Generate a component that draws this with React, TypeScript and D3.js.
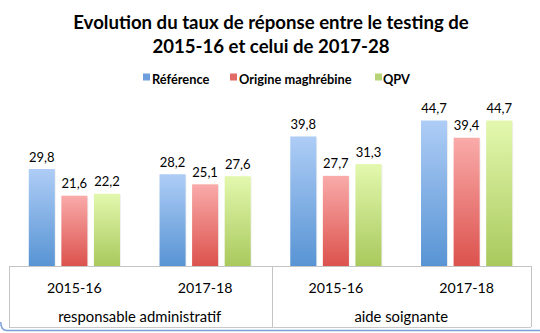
import React from "react";
import * as d3 from "d3";

const categories = ["responsable administratif", "aide soignante"];
const periods = ["2015-16", "2017-18"];
const series = ["Référence", "Origine maghrébine", "QPV"];
const reference = [29.8, 28.2, 39.8, 44.7];
const maghrebine = [21.6, 25.1, 27.7, 39.4];
const qpv = [22.2, 27.6, 31.3, 44.7];
const titleLines = ["Evolution du taux de réponse entre le testing de", "2015-16 et celui de 2017-28"];

const W = 540;
const H = 333;
const FONT = "Lato, 'Open Sans', sans-serif";

const gradients = [
  { id: "gBlue", top: "#aecdf6", bottom: "#5894d4" },
  { id: "gRed", top: "#f9abaa", bottom: "#dc524d" },
  { id: "gGreen", top: "#e3f8ae", bottom: "#a9c95d" },
];
const legendColors = ["#6e9fdc", "#e06b67", "#b6d477"];

export default function App() {
  const leaves = categories.flatMap((c) => periods.map((p) => `${c}|${p}`));
  const values = [reference, maghrebine, qpv];

  const x = d3.scaleBand<string>().domain(leaves).range([9, 532]).padding(0);
  const y = d3.scaleLinear().domain([0, 60]).range([266, 70.7]);

  const inner = (key: string) => {
    const c = (x(key) ?? 0) + x.bandwidth() / 2;
    return d3.scaleBand<string>().domain(series).range([c - 45.6, c + 45.6]).paddingInner(0.2).paddingOuter(0);
  };

  const catX = d3.scaleBand<string>().domain(categories).range([9, 532]).padding(0);

  const fmt = (v: number) => v.toFixed(1).replace(".", ",");

  const legendItems = [
    { label: "Référence", sq: 143, tx: 152 },
    { label: "Origine maghrébine", sq: 230, tx: 239 },
    { label: "QPV", sq: 375, tx: 383 },
  ];

  return (
    <svg width={W} height={H} style={{ position: "absolute", left: 0, top: 0, background: "#fff" }}>
      <defs>
        {gradients.map((g) => (
          <linearGradient key={g.id} id={g.id} x1="0" y1="0" x2="0" y2="1">
            <stop offset="0%" stopColor={g.top} />
            <stop offset="100%" stopColor={g.bottom} />
          </linearGradient>
        ))}
      </defs>
      <rect x={0} y={0} width={W} height={H} fill="#fff" />

      {titleLines.map((t, i) => (
        <text key={i} x={271} y={29 + i * 24} textAnchor="middle" fontFamily={FONT} fontWeight="bold" fontSize={18.6} fill="#000">
          {t}
        </text>
      ))}

      {legendItems.map((l, i) => (
        <g key={l.label}>
          <rect x={l.sq} y={73.5} width={7} height={7} fill={legendColors[i]} />
          <text x={l.tx} y={84} fontFamily={FONT} fontWeight="bold" fontSize={12.8} fill="#000">
            {l.label}
          </text>
        </g>
      ))}

      {leaves.map((key, li) => {
        const s = inner(key);
        return (
          <g key={key}>
            {series.map((ser, si) => {
              const v = values[si][li];
              const bx = s(ser) ?? 0;
              const by = y(v);
              return (
                <g key={ser}>
                  <rect x={bx + 1} y={by + 1} width={s.bandwidth()} height={y(0) - by - 1} fill="#000" opacity={0.06} />
                  <rect x={bx} y={by} width={s.bandwidth()} height={y(0) - by} fill={`url(#${gradients[si].id})`} />
                  <text x={bx + s.bandwidth() / 2} y={by - 7.5} textAnchor="middle" fontFamily={FONT} fontSize={13} fill="#000">
                    {fmt(v)}
                  </text>
                </g>
              );
            })}
          </g>
        );
      })}

      <line x1={9} x2={531} y1={266.5} y2={266.5} stroke="#c4c4c4" strokeWidth={1} />
      <line x1={9} x2={531} y1={327.5} y2={327.5} stroke="#c8c8c8" strokeWidth={1} />
      {[9, (catX("aide soignante") ?? 0) + 1, 531].map((lx, i) => (
        <line key={i} x1={Math.round(lx) + 0.5} x2={Math.round(lx) + 0.5} y1={266} y2={327} stroke="#c4c4c4" strokeWidth={1} />
      ))}

      {leaves.map((key) => (
        <text key={key} x={(x(key) ?? 0) + x.bandwidth() / 2} y={293} textAnchor="middle" fontFamily={FONT} fontSize={14.2} fill="#000">
          {key.split("|")[1]}
        </text>
      ))}
      {categories.map((c) => (
        <text key={c} x={(catX(c) ?? 0) + catX.bandwidth() / 2} y={322} textAnchor="middle" fontFamily={FONT} fontSize={14.8} fill="#000">
          {c}
        </text>
      ))}

      <path d="M0.75,322 Q0.75,330.5 7,330.5 H540" fill="none" stroke="#7d9fd8" strokeWidth={1.5} />
    </svg>
  );
}
